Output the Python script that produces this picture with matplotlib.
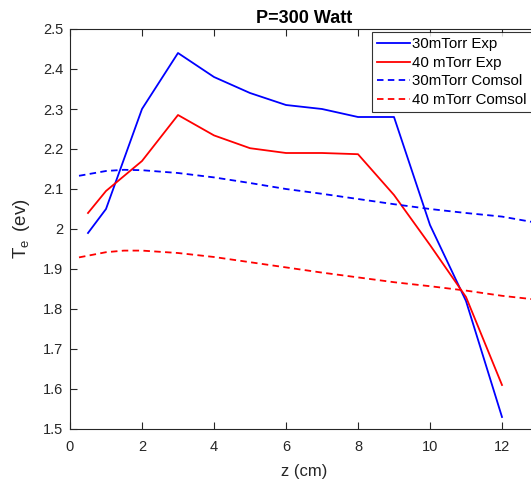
import matplotlib
matplotlib.use("Agg")
import matplotlib.pyplot as plt
from matplotlib.ticker import FuncFormatter

plt.rcParams['font.family'] = ['Liberation Sans', 'DejaVu Sans']

# Measured electron temperature along the axis
z_exp = [0.5, 1, 2, 3, 4, 5, 6, 7, 8, 9, 10, 11, 12]
te_30_exp = [1.99, 2.05, 2.30, 2.44, 2.38, 2.34, 2.31, 2.30, 2.28, 2.28, 2.01, 1.82, 1.53]
te_40_exp = [2.04, 2.095, 2.17, 2.285, 2.234, 2.202, 2.19, 2.19, 2.187, 2.085, 1.96, 1.83, 1.61]

# COMSOL simulation profiles
z_sim = [0.25, 1, 1.5, 2, 3, 4, 5, 6, 7, 8, 9, 10, 11, 12, 13]
te_30_sim = [2.133, 2.145, 2.148, 2.147, 2.140, 2.129, 2.115, 2.100, 2.088, 2.075, 2.062, 2.050, 2.040, 2.031, 2.015]
te_40_sim = [1.929, 1.942, 1.946, 1.946, 1.940, 1.930, 1.917, 1.904, 1.891, 1.879, 1.867, 1.857, 1.846, 1.833, 1.823]

labels = ['30mTorr Exp', '40 mTorr Exp', '30mTorr Comsol', '40 mTorr Comsol']
x_ticks = [0, 2, 4, 6, 8, 10, 12]
y_ticks = [1.5, 1.6, 1.7, 1.8, 1.9, 2.0, 2.1, 2.2, 2.3, 2.4, 2.5]

W, H = 531, 484
fig = plt.figure(figsize=(W / 100, H / 100), dpi=100)
ax = fig.add_axes([70 / W, (H - 429) / H, 468 / W, 400 / H])

lw = 1.3
ax.plot(z_exp, te_30_exp, color='#0000ff', lw=lw, label=labels[0])
ax.plot(z_exp, te_40_exp, color='#ff0000', lw=lw, label=labels[1])
ax.plot(z_sim, te_30_sim, color='#0000ff', lw=lw, dashes=(3.6, 2.4), label=labels[2])
ax.plot(z_sim, te_40_sim, color='#ff0000', lw=lw, dashes=(3.6, 2.4), label=labels[3])

ax.set_xlim(0, 13)
ax.set_ylim(1.5, 2.5)
ax.set_xticks(x_ticks)
ax.set_yticks(y_ticks)
ax.yaxis.set_major_formatter(FuncFormatter(lambda v, p: f'{v:g}'))

axis_col = '#262626'
for s in ax.spines.values():
    s.set_color(axis_col)
    s.set_linewidth(0.8)
ax.tick_params(direction='in', length=5, width=0.8, colors=axis_col,
               top=True, right=True, labelsize=10.5)
ax.tick_params(axis='x', pad=8)
ax.tick_params(axis='y', pad=5)
for t in ax.get_xticklabels() + ax.get_yticklabels():
    t.set_color(axis_col)

ax.set_xlabel('z (cm)', fontsize=12, color=axis_col, labelpad=7)
ax.set_ylabel(r'T$_{\mathregular{e}}\,$ (ev)', fontsize=13.5, color=axis_col, labelpad=8)
ax.set_title('P=300 Watt', fontsize=13, fontweight='bold', pad=4)

leg = fig.legend(loc='upper left', bbox_to_anchor=(372 / W, 1 - 32 / H),
                 fontsize=10.8, frameon=True, fancybox=False, edgecolor='#000000',
                 handlelength=2.2, handletextpad=0.1, labelspacing=0.3,
                 borderpad=0.35, borderaxespad=0)
leg.get_frame().set_linewidth(0.8)

fig.savefig('out.png', dpi=100)
